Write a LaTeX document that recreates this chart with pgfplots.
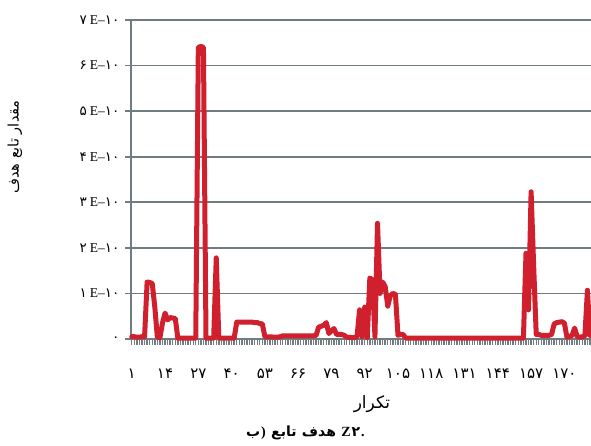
\documentclass[border=0pt]{standalone}
\usepackage{fontspec}
\setmainfont{Liberation Serif}
\newfontfamily\fa[Script=Arabic]{DejaVu Sans}
\usepackage{pgfplots}
\pgfplotsset{compat=1.18}
\TeXXeTstate=1
\definecolor{redline}{RGB}{208,32,46}
\definecolor{gridgray}{RGB}{112,124,128}
\newcommand{\yl}[1]{\mbox{\fa\fontsize{13.5}{16}\selectfont #1}\hspace{3pt}\mbox{E–}\mbox{\fa\fontsize{13.5}{16}\selectfont ۱۰}}
\pgfplotstableread{
i y
1 0.05
2 0.05
3 0.04
4 0.04
5 0.05
6 0.05
7 1.25
8 1.24
9 1.22
10 0.7
11 0.04
12 0.03
13 0.35
14 0.57
15 0.42
16 0.47
17 0.46
18 0.45
19 0.02
26 0.02
27 6.40
28 6.42
29 6.40
30 0.02
33 0.02
34 1.78
35 0.02
41 0.02
42 0.37
48 0.37
49 0.36
50 0.36
51 0.34
52 0.33
53 0.05
58 0.04
59 0.05
60 0.07
72 0.07
73 0.08
74 0.26
75 0.28
76 0.30
77 0.36
78 0.12
79 0.18
80 0.23
81 0.10
83 0.10
84 0.08
85 0.04
88 0.03
89 0.05
90 0.64
91 0.05
92 0.70
93 0.03
94 1.34
95 1.30
96 0.05
97 2.54
98 1.00
99 1.25
100 1.15
101 0.72
102 0.95
103 1.00
104 0.98
105 0.08
106 0.10
107 0.10
108 0.02
154 0.02
155 1.88
156 0.64
157 3.23
158 1.60
159 0.10
160 0.10
161 0.08
164 0.08
165 0.10
166 0.33
167 0.36
168 0.37
169 0.38
170 0.35
171 0.04
172 0.05
173 0.08
174 0.24
175 0.05
176 0.04
177 0.05
178 0.06
179 1.07
180 0.08
181 0.08
}\datatable
\begin{document}
\begin{tikzpicture}[x=1pt,y=1pt]
\begin{axis}[
  at={(0,0)}, anchor=south west,
  scale only axis, width=460pt, height=319pt,
  xmin=0.7, xmax=180.4, ymin=0, ymax=7,
  clip=false,
  axis lines=left,
  axis line style={gridgray, line width=1.8pt, -},
  x axis line style={draw=none},
  ymajorgrids,
  grid style={gridgray, line width=1.8pt},
  tick align=outside,
  major tick length=6pt, minor tick length=6pt,
  ytick={0,1,...,7},
  yticklabels={\mbox{\fa ۰},\yl{۱},\yl{۲},\yl{۳},\yl{۴},\yl{۵},\yl{۶},\yl{۷}},
  y tick style={gridgray, line width=1.8pt},
  xtick={1,14,27,40,53,66,79,92,105,118,131,144,157,170},
  xticklabels={۱,۱۴,۲۷,۴۰,۵۳,۶۶,۷۹,۹۲,۱۰۵,۱۱۸,۱۳۱,۱۴۴,۱۵۷,۱۷۰},
  minor xtick={1,2,...,180},
  x tick style={gridgray, line width=1.4pt},
  xticklabel style={font=\fa\fontsize{15}{17}\selectfont, yshift=-20pt},
  yticklabel style={font=\fontsize{13.5}{15}\selectfont, xshift=-2pt},
]
\addplot[redline, line width=5pt, line join=round, line cap=round] table[x=i,y=y] {\datatable};
\end{axis}
\node[rotate=90, font=\fa\fontsize{14.5}{16}\selectfont] at (-116,192) {\beginR مقدار تابع هدف\endR};
\node[font=\fa\fontsize{17}{19}\selectfont] at (241,-65) {\beginR تکرار\endR};
\begin{scope}[every node/.style={inner sep=0pt, anchor=base west, font=\fontsize{14}{16}\selectfont\bfseries}]
\node (c1) at (115,-97) {\fa ب};
\node (c2) at ([xshift=0.5pt]c1.base east) {)};
\node (c3) at ([xshift=5pt]c2.base east) {\fa تابع};
\node (c4) at ([xshift=5pt]c3.base east) {\fa هدف};
\node (c5) at ([xshift=5pt]c4.base east) {Z};
\node (c6) at ([xshift=0.5pt]c5.base east) {\fa ۲};
\node (c7) at ([xshift=0.5pt]c6.base east) {.};
\end{scope}
\pgfresetboundingbox
\path[use as bounding box] (-131,-106) rectangle (460,339);
\end{tikzpicture}
\end{document}
